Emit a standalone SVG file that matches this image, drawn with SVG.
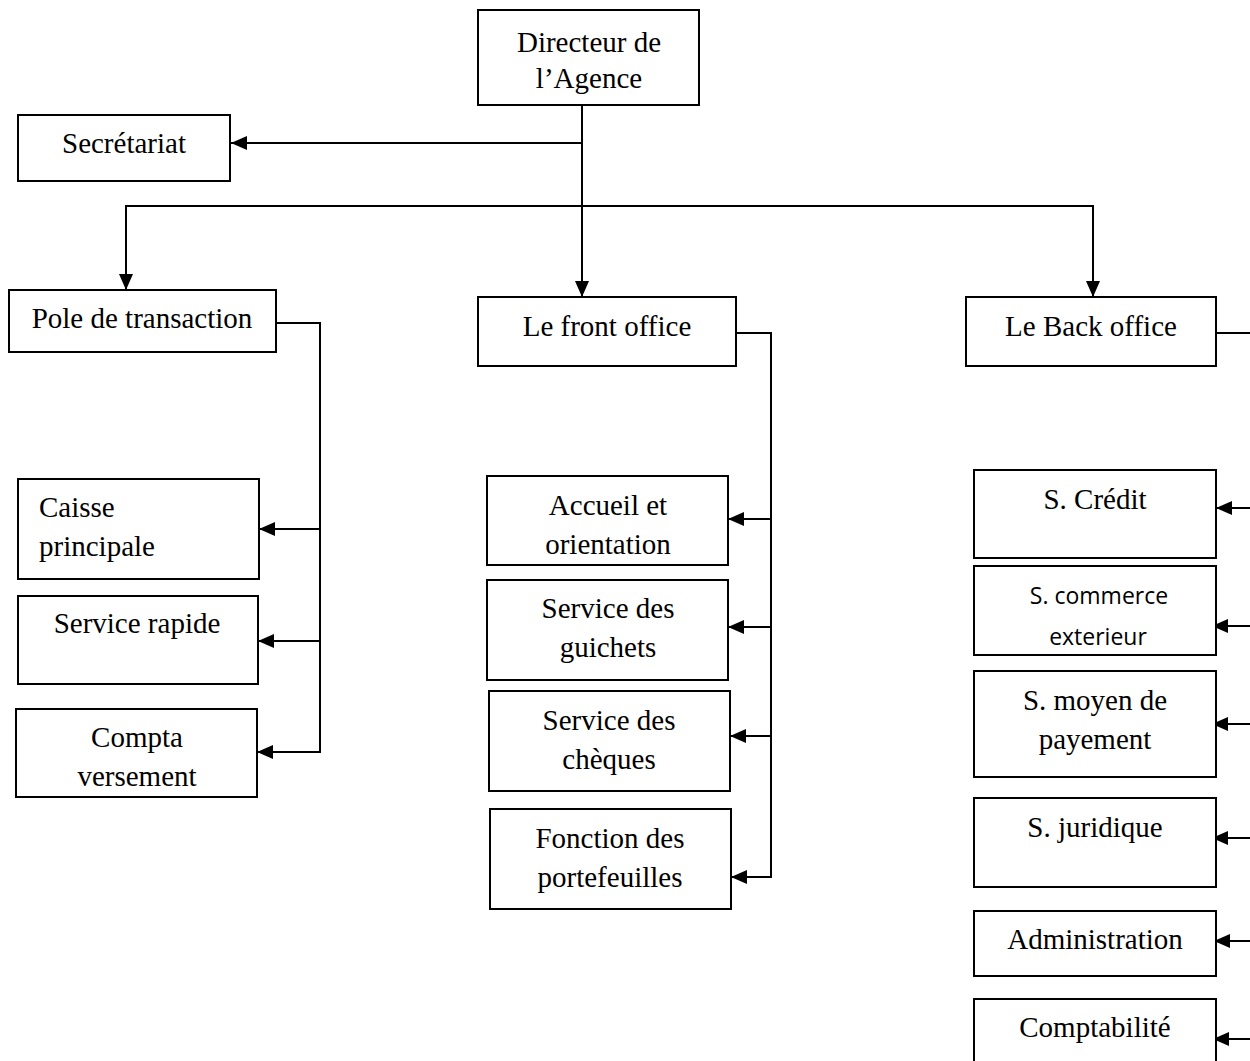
<svg xmlns="http://www.w3.org/2000/svg" width="1250" height="1061" viewBox="0 0 1250 1061">
<style>
.box{fill:#fff;stroke:#000;stroke-width:2}
.t{font-family:"Liberation Serif","Times New Roman",serif;font-size:29px;fill:#000;text-anchor:middle}
.s{font-family:"Open Sans","Noto Sans",sans-serif;font-size:23px;fill:#000;text-anchor:middle}
.ln{fill:none;stroke:#000;stroke-width:2}
</style>
<defs>
<marker id="ah" viewBox="0 0 16 14" refX="16" refY="7" markerWidth="16" markerHeight="14" markerUnits="userSpaceOnUse" orient="auto">
<path d="M0,0 L16,7 L0,14 Z" fill="#000"/>
</marker>
</defs>
<rect width="1250" height="1061" fill="#fff"/>
<g id="connectors">
<line class="ln" x1="582" y1="105" x2="582" y2="297" marker-end="url(#ah)"/>
<line class="ln" x1="582" y1="143" x2="231" y2="143" marker-end="url(#ah)"/>
<polyline class="ln" points="126,206 1093,206"/>
<line class="ln" x1="126" y1="205" x2="126" y2="290" marker-end="url(#ah)"/>
<line class="ln" x1="1093" y1="205" x2="1093" y2="297" marker-end="url(#ah)"/>
<polyline class="ln" points="276,323 320,323 320,752"/>
<line class="ln" x1="320" y1="529" x2="259" y2="529" marker-end="url(#ah)"/>
<line class="ln" x1="320" y1="641" x2="258" y2="641" marker-end="url(#ah)"/>
<line class="ln" x1="321" y1="752" x2="257" y2="752" marker-end="url(#ah)"/>
<polyline class="ln" points="736,333 771,333 771,877"/>
<line class="ln" x1="771" y1="519" x2="728" y2="519" marker-end="url(#ah)"/>
<line class="ln" x1="771" y1="627" x2="728" y2="627" marker-end="url(#ah)"/>
<line class="ln" x1="771" y1="736" x2="730" y2="736" marker-end="url(#ah)"/>
<line class="ln" x1="772" y1="877" x2="731" y2="877" marker-end="url(#ah)"/>
<line class="ln" x1="1216" y1="333" x2="1250" y2="333"/>
<line class="ln" x1="1250" y1="508" x2="1216" y2="508" marker-end="url(#ah)"/>
<line class="ln" x1="1250" y1="626" x2="1212" y2="626" marker-end="url(#ah)"/>
<line class="ln" x1="1250" y1="724" x2="1212" y2="724" marker-end="url(#ah)"/>
<line class="ln" x1="1250" y1="838" x2="1212" y2="838" marker-end="url(#ah)"/>
<line class="ln" x1="1250" y1="941" x2="1214" y2="941" marker-end="url(#ah)"/>
<line class="ln" x1="1250" y1="1039" x2="1213" y2="1039" marker-end="url(#ah)"/>
</g>
<g id="directeur"><rect class="box" x="478" y="10" width="221" height="95"/><text class="t" x="589" y="52">Directeur de</text><text class="t" x="589" y="88">l’Agence</text></g>
<g id="secretariat"><rect class="box" x="18" y="115" width="212" height="66"/><text class="t" x="124" y="153">Secrétariat</text></g>
<g id="pole"><rect class="box" x="9" y="290" width="267" height="62"/><text class="t" x="142" y="328">Pole de transaction</text></g>
<g id="front"><rect class="box" x="478" y="297" width="258" height="69"/><text class="t" x="607" y="336">Le front office</text></g>
<g id="back"><rect class="box" x="966" y="297" width="250" height="69"/><text class="t" x="1091" y="336">Le Back office</text></g>
<g id="caisse"><rect class="box" x="18" y="479" width="241" height="100"/><text class="t" x="39" y="517" style="text-anchor:start">Caisse</text><text class="t" x="39" y="556" style="text-anchor:start">principale</text></g>
<g id="rapide"><rect class="box" x="18" y="596" width="240" height="88"/><text class="t" x="137" y="633">Service rapide</text></g>
<g id="compta"><rect class="box" x="16" y="709" width="241" height="88"/><text class="t" x="137" y="747">Compta</text><text class="t" x="137" y="786">versement</text></g>
<g id="accueil"><rect class="box" x="487" y="476" width="241" height="89"/><text class="t" x="608" y="515">Accueil et</text><text class="t" x="608" y="554">orientation</text></g>
<g id="guichets"><rect class="box" x="487" y="580" width="241" height="100"/><text class="t" x="608" y="618">Service des</text><text class="t" x="608" y="657">guichets</text></g>
<g id="cheques"><rect class="box" x="489" y="691" width="241" height="100"/><text class="t" x="609" y="730">Service des</text><text class="t" x="609" y="769">chèques</text></g>
<g id="portefeuilles"><rect class="box" x="490" y="809" width="241" height="100"/><text class="t" x="610" y="848">Fonction des</text><text class="t" x="610" y="887">portefeuilles</text></g>
<g id="credit"><rect class="box" x="974" y="470" width="242" height="88"/><text class="t" x="1095" y="509">S. Crédit</text></g>
<g id="commerce"><rect class="box" x="974" y="566" width="242" height="89"/><text class="s" x="1099" y="604">S. commerce</text><text class="s" x="1098" y="645">exterieur</text></g>
<g id="moyen"><rect class="box" x="974" y="671" width="242" height="106"/><text class="t" x="1095" y="710">S. moyen de</text><text class="t" x="1095" y="749">payement</text></g>
<g id="juridique"><rect class="box" x="974" y="798" width="242" height="89"/><text class="t" x="1095" y="837">S. juridique</text></g>
<g id="administration"><rect class="box" x="974" y="911" width="242" height="65"/><text class="t" x="1095" y="949">Administration</text></g>
<g id="comptabilite"><rect class="box" x="974" y="999" width="242" height="70"/><text class="t" x="1095" y="1037">Comptabilité</text></g>
</svg>
